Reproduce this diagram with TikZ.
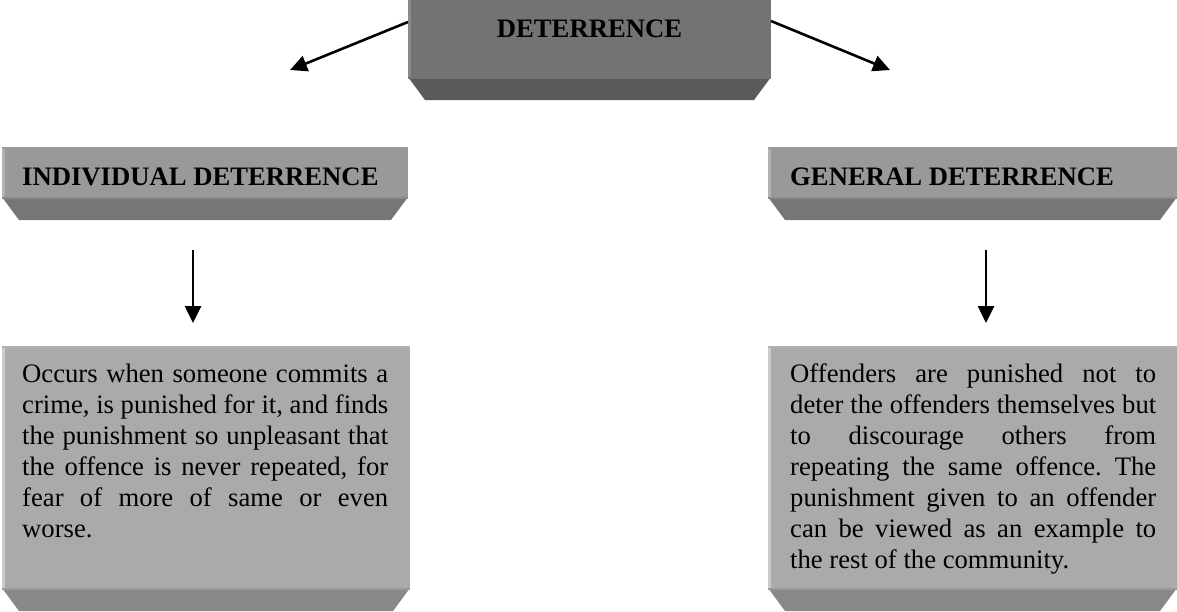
\documentclass[tikz,border=0pt]{standalone}
\usepackage{fontspec}
\setmainfont{Liberation Serif}
\usetikzlibrary{arrows.meta,positioning}
\definecolor{topface}{HTML}{737373}
\definecolor{topedge}{HTML}{8A8A8A}
\definecolor{topbevel}{HTML}{5A5A5A}
\definecolor{headface}{HTML}{999999}
\definecolor{headedge}{HTML}{B2B2B2}
\definecolor{headbevel}{HTML}{767676}
\definecolor{bodyface}{HTML}{AAAAAA}
\definecolor{bodyedge}{HTML}{CCCCCC}
\definecolor{bodybevel}{HTML}{888888}
\tikzset{
    myface/.style={rectangle,inner sep=0pt,outer sep=0pt,anchor=north west},
    mytitle/.style={font=\fontsize{26.67}{31}\selectfont\bfseries,inner sep=0pt},
    mytext/.style={font=\fontsize{26.67}{31}\selectfont,text width=366pt,align=justify,
        inner sep=0pt,anchor=base west},
    myarrow/.style={line width=2.6pt,draw=black,-{Triangle[length=17pt,width=16pt]}}
}

\begin{document}
\frenchspacing
\begin{tikzpicture}[x=1pt,y=-1pt]
  \clip (0,0) rectangle (1177,611);

  %---------------- boxes ----------------
            \node[myface,fill=topface,minimum width=363pt,minimum height=82pt] (deter) at (408,-5) {};
            \node[myface,fill=headface,minimum width=406pt,minimum height=50pt] (indhead) at (2,147) {};
            \node[myface,fill=headface,minimum width=409pt,minimum height=50pt] (genhead) at (768,147) {};
            \node[myface,fill=bodyface,minimum width=408pt,minimum height=242pt] (indbody) at (2,346) {};
            \node[myface,fill=bodyface,minimum width=409pt,minimum height=242pt] (genbody) at (768,346) {};

  % bevel and light edges
            \foreach \B/\C/\E in {deter/topbevel/topedge,indhead/headbevel/headedge,genhead/headbevel/headedge,
                                  indbody/bodybevel/bodyedge,genbody/bodybevel/bodyedge}{
                \fill[\C] (\B.south west) -- (\B.south east) -- ++(-17,23)
                    -- ([shift={(17,23)}]\B.south west) -- cycle;
                \draw[\C!85!white,line width=2pt] ([yshift=-1pt]\B.south west) -- ([yshift=-1pt]\B.south east);
                \draw[\E,line width=2.5pt] ([xshift=1.25pt]\B.south west) -- ([xshift=1.25pt]\B.north west);
                \draw[\E!60!\C,line width=2pt] ([yshift=-1pt]\B.north west) -- ([yshift=-1pt]\B.north east);
            }

  %---------------- texts ----------------
            \node[mytitle,anchor=base] (detertitle) at (589.5,37) {DETERRENCE};
            \node[mytitle,anchor=base west] (indtitle) at (22,185) {INDIVIDUAL DETERRENCE};
            \node[mytitle,anchor=base west] (gentitle) at (790,185) {GENERAL DETERRENCE};

            \node[mytext] (indtext) at (22,382) {\hyphenpenalty=10000
                Occurs when someone commits a\linebreak
                crime, is punished for it, and finds\linebreak
                the punishment so unpleasant that\linebreak
                the offence is never repeated, for\linebreak
                fear of more of same or even\linebreak
                worse.};
            \node[mytext] (gentext) at (790,382) {\hyphenpenalty=10000
                Offenders are punished not to\linebreak
                deter the offenders themselves but\linebreak
                to discourage others from\linebreak
                repeating the same offence. The\linebreak
                punishment given to an offender\linebreak
                can be viewed as an example to\linebreak
                the rest of the community.};

  %---------------- arrows ----------------
            \coordinate (indend) at (290,70);
            \coordinate (genend) at (890,70);
            \coordinate (inddown) at (193,250);
            \coordinate (indup) at (193,323);
            \coordinate (gendown) at (986,250);
            \coordinate (genup) at (986,323);

            \draw[myarrow] ([yshift=14pt]deter.west) -- (indend);
            \draw[myarrow] ([yshift=15pt]deter.east) -- (genend);
            \draw[myarrow] (inddown) -- (indup);
            \draw[myarrow] (gendown) -- (genup);

\end{tikzpicture}
\end{document}
